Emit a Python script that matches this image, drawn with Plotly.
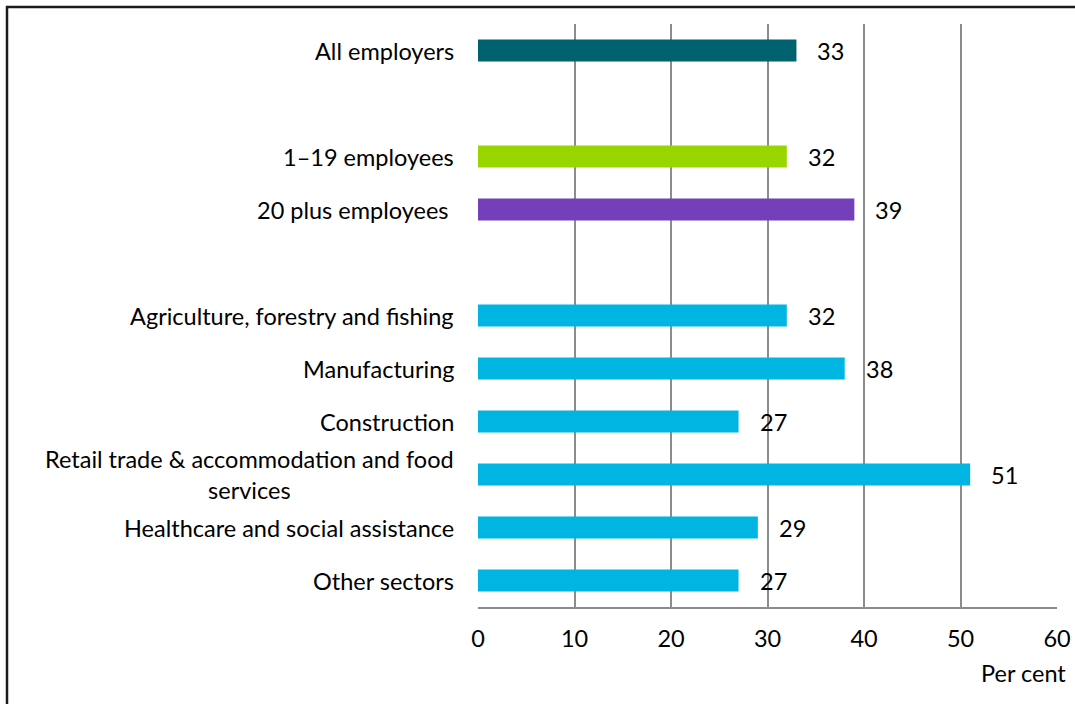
import plotly.graph_objects as go

categories = ["All employers", " ", "1–19 employees", "20 plus employees\u00a0", "  ",
              "Agriculture, forestry and fishing", "Manufacturing", "Construction",
              "Retail trade & accommodation and food<br>services",
              "Healthcare and social assistance", "Other sectors"]
values = [33, None, 32, 39, None, 32, 38, 27, 51, 29, 27]
colors = ["#00626F", "#FFFFFF", "#99D600", "#743FBA", "#FFFFFF",
          "#00B5E2", "#00B5E2", "#00B5E2", "#00B5E2", "#00B5E2", "#00B5E2"]
x_ticks = [0, 10, 20, 30, 40, 50, 60]
x_title = "Per cent"

FONT = "Lato"
FS = 23.5
W, H = 1075, 704
L, R, T, B = 478, 18, 24, 97
PW, PH = W - L - R, H - T - B


def px_x(p):
    return (p - L) / PW


def px_y(p):
    return ((H - B) - p) / PH


fig = go.Figure()
fig.add_trace(go.Bar(
    y=categories, x=values, orientation="h",
    marker=dict(color=colors, line=dict(width=0)),
    width=0.415, hoverinfo="skip",
))

annotations = []
for c, v in zip(categories, values):
    if v is None:
        continue
    annotations.append(dict(x=v, y=c, xref="x", yref="y", text=str(v),
                            showarrow=False, xanchor="left", xshift=19,
                            font=dict(family=FONT, size=FS, color="#000000")))
    annotations.append(dict(x=0, y=c, xref="paper", yref="y", text=c,
                            showarrow=False, xanchor="right", align="center",
                            xshift=-22,
                            font=dict(family=FONT, size=FS, color="#000000")))
annotations.append(dict(x=1, y=0, xref="paper", yref="paper", text=x_title,
                        showarrow=False, xanchor="right", yanchor="top",
                        xshift=11, yshift=-50,
                        font=dict(family=FONT, size=FS, color="#000000")))

frame = dict(color="#1A1A1A", width=2.5)
fig.update_layout(
    width=W, height=H, autosize=False,
    margin=dict(l=L, r=R, t=T, b=B, pad=0, autoexpand=False),
    paper_bgcolor="white", plot_bgcolor="white",
    showlegend=False,
    annotations=annotations,
    xaxis=dict(range=[0, 60], tickvals=x_ticks, showgrid=True, automargin=False,
               gridcolor="#8C8C8C", gridwidth=1.5, zeroline=False,
               showline=True, linecolor="#8C8C8C", linewidth=1.5,
               ticks="", ticklen=0, ticklabelstandoff=10,
               tickfont=dict(family=FONT, size=FS, color="#000000")),
    yaxis=dict(categoryorder="array", categoryarray=categories, automargin=False,
               autorange="reversed", showticklabels=False, showgrid=False,
               zeroline=False, showline=False, ticks=""),
    shapes=[
        dict(type="line", xref="paper", yref="paper",
             x0=px_x(6), x1=px_x(W + 5), y0=px_y(7), y1=px_y(7),
             line=frame, layer="above"),
        dict(type="line", xref="paper", yref="paper",
             x0=px_x(7), x1=px_x(7), y0=px_y(6), y1=px_y(H + 5),
             line=frame, layer="above"),
    ],
)
fig.write_html("out.html",
               config={"displayModeBar": False, "responsive": False},
               post_script="document.body.style.margin='0px';document.body.style.overflow='hidden';")
